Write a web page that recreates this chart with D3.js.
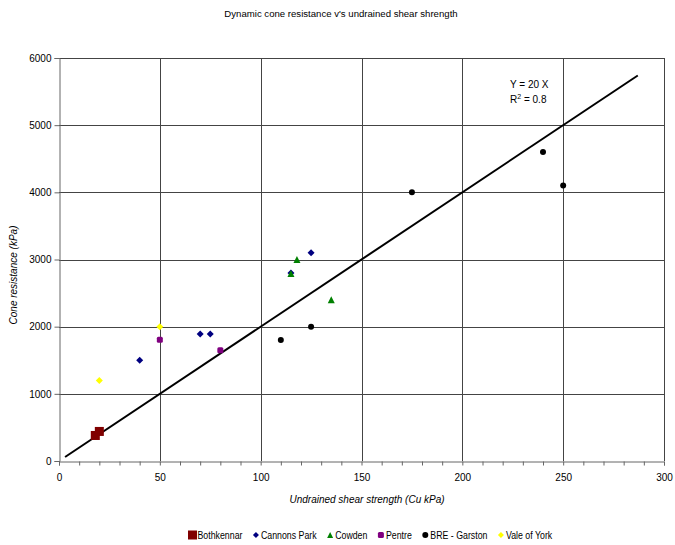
<!DOCTYPE html>
<html>
<head>
<meta charset="utf-8">
<script src="https://cdn.jsdelivr.net/npm/d3@7"></script>
<style>
  body { margin: 0; background: #fff; }
  text { font-family: "Liberation Sans", Arial, sans-serif; fill: #000; }
</style>
</head>
<body>
<svg class="chart"></svg>
<script>
var width = 675, height = 545;

// data (Cu kPa, cone resistance kPa)
var bothkennar = [[18, 380], [20, 440]];
var cannonsPark = [[40, 1500], [70, 1890], [75, 1890], [115, 2800], [125, 3100]];
var cowden = [[118, 3000], [115, 2790], [135, 2400]];
var pentre = [[50, 1805], [80, 1650]];
var breGarston = [[110, 1800], [125, 2000], [175, 4000], [240, 4600], [250, 4100]];
var valeOfYork = [[50, 2000], [20, 1200]];

var seriesNames = ["Bothkennar", "Cannons Park", "Cowden", "Pentre", "BRE - Garston", "Vale of York"];
var seriesColors = ["#800000", "#000080", "#008000", "#800080", "#000000", "#ffff00"];
var seriesShapes = ["square", "diamond", "triangle", "rsquare", "circle", "diamond"];
var seriesData = [bothkennar, cannonsPark, cowden, pentre, breGarston, valeOfYork];

var xTicks = [0, 50, 100, 150, 200, 250, 300];
var yTicks = [0, 1000, 2000, 3000, 4000, 5000, 6000];
var trendSlope = 20;
var trendRange = [3, 287];

var chart = d3.select(".chart")
    .attr("width", width)
    .attr("height", height);

var x_scale = d3.scaleLinear().domain([0, 300]).range([59, 664]);
var y_scale = d3.scaleLinear().domain([0, 6000]).range([461, 58]);

chart.append("text")
    .attr("x", 341).attr("y", 17)
    .attr("text-anchor", "middle")
    .style("font-size", "9.6px")
    .text("Dynamic cone resistance v's undrained shear shrength");

// gridlines
var grid = chart.append("g").attr("stroke", "#444").attr("stroke-width", 1);
grid.selectAll(".hg").data(yTicks.slice(1))
    .enter().append("line")
    .attr("x1", x_scale(0)).attr("x2", x_scale(300))
    .attr("y1", function(d) { return Math.round(y_scale(d)) + 0.5; })
    .attr("y2", function(d) { return Math.round(y_scale(d)) + 0.5; });
grid.selectAll(".vg").data(xTicks.slice(1))
    .enter().append("line")
    .attr("y1", y_scale(0)).attr("y2", y_scale(6000))
    .attr("x1", function(d) { return Math.round(x_scale(d)) + 0.5; })
    .attr("x2", function(d) { return Math.round(x_scale(d)) + 0.5; });

// axes
var x_axis = d3.axisBottom(x_scale).tickValues(d3.range(0, 301, 10))
    .tickSize(4).tickFormat(function(d) { return d % 50 == 0 ? d : ""; });
var y_axis = d3.axisLeft(y_scale).tickValues(yTicks).tickSize(5).tickFormat(d3.format("d"));

var gx = chart.append("g")
    .attr("transform", "translate(0," + (Math.round(y_scale(0)) + 0.5) + ")")
    .call(x_axis);
gx.select(".domain").attr("stroke", "#666");
gx.selectAll(".tick line").attr("stroke", "#666");
gx.selectAll(".tick text").attr("dy", "1.2em").style("font-size", "10px")
    .style("font-family", "Liberation Sans, Arial, sans-serif");

var gy = chart.append("g")
    .attr("transform", "translate(" + (Math.round(x_scale(0)) + 0.5) + ",0)")
    .call(y_axis);
gy.select(".domain").attr("stroke", "#666");
gy.selectAll(".tick line").attr("stroke", "#666");
gy.selectAll(".tick text").attr("x", -8).style("font-size", "10px")
    .style("font-family", "Liberation Sans, Arial, sans-serif");

chart.append("text")
    .attr("x", 367).attr("y", 503)
    .attr("text-anchor", "middle")
    .style("font-size", "10px").style("font-style", "italic")
    .text("Undrained shear strength (Cu kPa)");

chart.append("text")
    .attr("transform", "translate(17,275) rotate(-90)")
    .attr("text-anchor", "middle")
    .style("font-size", "10px").style("font-style", "italic")
    .text("Cone resistance (kPa)");

// trend line
chart.append("line")
    .attr("x1", x_scale(trendRange[0])).attr("y1", y_scale(trendRange[0] * trendSlope))
    .attr("x2", x_scale(trendRange[1])).attr("y2", y_scale(trendRange[1] * trendSlope))
    .attr("stroke", "#000").attr("stroke-width", 2);

var eq = chart.append("text").attr("x", 510).attr("y", 88).style("font-size", "10px");
eq.text("Y = 20 X");
var r2 = chart.append("text").attr("x", 510).attr("y", 103).style("font-size", "10px");
r2.append("tspan").text("R");
r2.append("tspan").attr("dy", -4).style("font-size", "7px").text("2");
r2.append("tspan").attr("dy", 4).text(" = 0.8");

function marker(sel, shape, color, s) {
    if (shape == "square") {
        sel.append("rect").attr("x", -s / 2).attr("y", -s / 2).attr("width", s).attr("height", s)
            .attr("fill", color);
    } else if (shape == "rsquare") {
        sel.append("rect").attr("x", -s / 2).attr("y", -s / 2).attr("width", s).attr("height", s)
            .attr("rx", 1.5).attr("fill", color);
    } else if (shape == "diamond") {
        var h = s / 2;
        sel.append("path").attr("d", "M0," + (-h) + "L" + h + ",0L0," + h + "L" + (-h) + ",0Z")
            .attr("fill", color);
    } else if (shape == "triangle") {
        var t = s / 2;
        sel.append("path").attr("d", "M0," + (-t) + "L" + t + "," + t + "L" + (-t) + "," + t + "Z")
            .attr("fill", color);
    } else {
        sel.append("circle").attr("r", s / 2).attr("fill", color);
    }
}

var sizes = [9, 7, 7, 6, 6, 7];
seriesData.forEach(function(data, i) {
    chart.append("g").selectAll("g")
        .data(data)
        .enter().append("g")
        .attr("transform", function(d) {
            return "translate(" + x_scale(d[0]) + "," + y_scale(d[1]) + ")";
        })
        .each(function() { marker(d3.select(this), seriesShapes[i], seriesColors[i], sizes[i]); });
});

// legend (the original font is a narrow one, so squeeze the text horizontally)
var squeeze = 0.88;
var legend = chart.append("g").attr("transform", "translate(188,535)");
var lx = 0;
seriesNames.forEach(function(name, i) {
    var ms = i == 0 ? 9 : 6;
    var item = legend.append("g").attr("transform", "translate(" + lx + ",0)");
    var m = item.append("g").attr("transform", "translate(" + (ms / 2) + ",0)");
    marker(m, seriesShapes[i], seriesColors[i], ms);
    var t = item.append("text")
        .attr("transform", "translate(" + (ms / 2 + 5) + ",3.5) scale(" + squeeze + ",1)")
        .style("font-size", "10px").text(name);
    lx += ms / 2 + 5 + t.node().getComputedTextLength() * squeeze + 10.5;
});
</script>
</body>
</html>
